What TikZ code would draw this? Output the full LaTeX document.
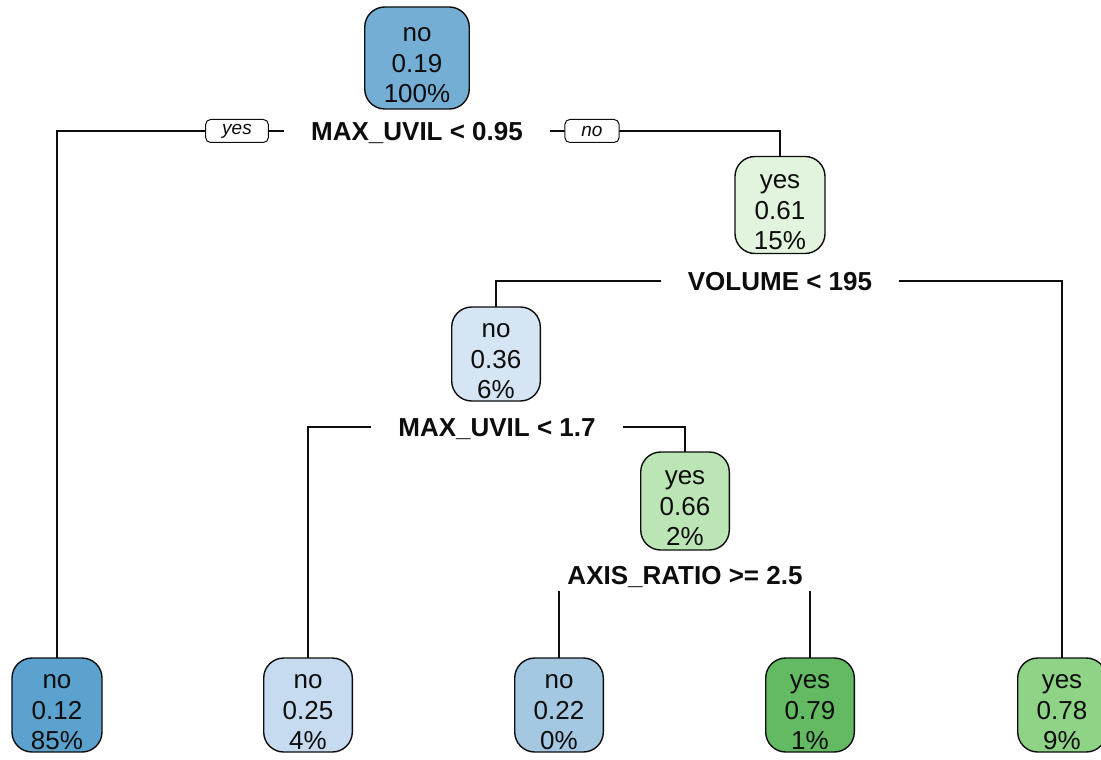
\documentclass[tikz,border=0pt]{standalone}
\usepackage{fontspec}
\setmainfont{Liberation Sans}
\usetikzlibrary{backgrounds}
\definecolor{TreeInk}{gray}{0.05}
\definecolor{NoDeep}{HTML}{5BA2CF}
\definecolor{NoMid}{HTML}{74AED4}
\definecolor{NoSoft}{HTML}{A4C8E2}
\definecolor{NoPale}{HTML}{C6DBEF}
\definecolor{NoFaint}{HTML}{D5E5F3}
\definecolor{YesFaint}{HTML}{E2F4DD}
\definecolor{YesPale}{HTML}{BCE5B5}
\definecolor{YesMid}{HTML}{8FD386}
\definecolor{YesDeep}{HTML}{63BA63}
% three-line class box: label, probability, share of cases
\newcommand{\classtext}[3]{\rule{0pt}{14.3pt}#1\\#2\\#3}
\tikzset{
    tree/diagram/.style={
        x=0.5pt, y=-0.5pt,
        draw=TreeInk,
        text=TreeInk,
        every node/.style={inner sep=0pt, outer sep=0pt}
    },
    tree/box/.style={
        draw=TreeInk, line width=0.7pt, rounded corners=10pt,
        align=center, font=\fontsize{13}{15.3}\selectfont,
        inner xsep=9.5pt, minimum height=47pt
    },
    tree/split/.style={
        fill=white, font=\fontsize{13}{16}\selectfont\bfseries,
        text height=10.3pt, text depth=1pt,
        inner xsep=13.5pt, minimum height=16pt
    },
    tree/branch/.style={draw=TreeInk, line width=0.6pt},
    tree/answer/.style={
        draw=TreeInk, fill=white, line width=0.5pt, rounded corners=2.5pt,
        font=\fontsize{9.5}{11}\selectfont\itshape,
        inner xsep=8.3pt, minimum height=11.5pt
    }
}
\begin{document}
\begin{tikzpicture}[tree/diagram]
    \useasboundingbox (0,0) rectangle (1101,759);
    \node[tree/box, fill=NoMid, minimum height=51pt] (root) at (417,58) {\classtext{no}{0.19}{100\%}};
    \node[tree/split] (s1) at (417,131) {MAX\_UVIL < 0.95};
    \node[tree/box, fill=YesFaint, minimum height=48.5pt] (n2) at (780,205) {\classtext{yes}{0.61}{15\%}};
    \node[tree/split] (s2) at (780,281) {VOLUME < 195};
    \node[tree/box, fill=NoFaint] (n3) at (496,354) {\classtext{no}{0.36}{6\%}};
    \node[tree/split] (s3) at (497,427) {MAX\_UVIL < 1.7};
    \node[tree/box, fill=YesPale, minimum height=49pt] (n4) at (685,501) {\classtext{yes}{0.66}{2\%}};
    \node[tree/split] (s4) at (685,575) {AXIS\_RATIO >= 2.5};
    \node[tree/box, fill=NoDeep] (l1) at (57,705) {\classtext{no}{0.12}{85\%}};
    \node[tree/box, fill=NoPale] (l2) at (308,705) {\classtext{no}{0.25}{4\%}};
    \node[tree/box, fill=NoSoft] (l3) at (559,705) {\classtext{no}{0.22}{0\%}};
    \node[tree/box, fill=YesDeep] (l4) at (810,705) {\classtext{yes}{0.79}{1\%}};
    \node[tree/box, fill=YesMid] (l5) at (1062,705) {\classtext{yes}{0.78}{9\%}};
    \begin{scope}[on background layer]
        \draw[tree/branch] (s1.center) -| node[tree/answer, pos=0.25] (ayes) {yes} (l1.north);
        \draw[tree/branch] (s1.center) -| node[tree/answer, pos=0.241] (ano) {no} (n2.north);
        \draw[tree/branch] (s2.center) -| (n3.north);
        \draw[tree/branch] (s2.center) -| (l5.north);
        \draw[tree/branch] (s3.center) -| (l2.north);
        \draw[tree/branch] (s3.center) -| (n4.north);
        \draw[tree/branch] (s4.center) -| (l3.north);
        \draw[tree/branch] (s4.center) -| (l4.north);
    \end{scope}
\end{tikzpicture}
\end{document}
